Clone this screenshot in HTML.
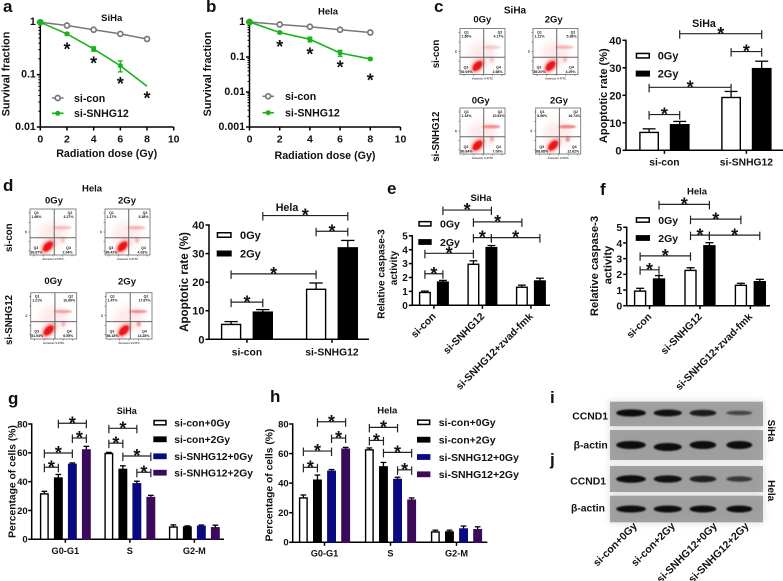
<!DOCTYPE html>
<html lang="en">
<head>
<meta charset="utf-8">
<title>SNHG12 radiation response figure</title>
<style>
html,body{margin:0;padding:0;background:#fff;width:783px;height:581px;overflow:hidden}
svg{display:block;font-family:"Liberation Sans",Arial,sans-serif;filter:blur(0.3px)}
text{fill:#111;font-weight:bold}
</style>
</head>
<body>
<svg id="fig" xmlns="http://www.w3.org/2000/svg" width="783" height="581" viewBox="0 0 783 581">
<defs>
<filter id="b05" x="-30%" y="-30%" width="160%" height="160%"><feGaussianBlur stdDeviation="0.7"/></filter>
<filter id="b1" x="-40%" y="-40%" width="180%" height="180%"><feGaussianBlur stdDeviation="1.3"/></filter>
<filter id="b3" x="-40%" y="-40%" width="180%" height="180%"><feGaussianBlur stdDeviation="4"/></filter>
</defs>
</svg>
<script>
/* ---------- panel a ---------- */
const aDoses=[0,2,4,6,8];
const aCon=[1,0.87,0.72,0.6,0.48];
const aSnhg=[1,0.6,0.31,0.148,0.06];
const aSnhgErr=[0,0.03,0.03,0.035,0];
const aSnhgMarked=[1,1,1,1,0];
const aXTicks=[0,2,4,6,8,10];
const aYTicks=[1,0.1,0.01];
const aStarDoses=[2,4,6,8];
/* ---------- panel b ---------- */
const bDoses=[0,2,4,6,8];
const bCon=[1,0.85,0.73,0.6,0.5];
const bSnhg=[1,0.5,0.32,0.13,0.088];
const bSnhgErr=[0,0.03,0.05,0.025,0.005];
const bSnhgMarked=[1,1,1,1,1];
const bXTicks=[0,2,4,6,8,10];
const bYTicks=[1,0.1,0.01,0.001];
const bStarDoses=[2,4,6,8];
/* ---------- panel c ---------- */
const cGroups=['si-con','si-SNHG12'];
const cSeries=['0Gy','2Gy'];
const cValues=[6.5,9.3,19.2,29.7];
const cErrors=[1.3,1.2,2.2,2.7];
const cTicks=[0,10,20,30,40];
const cBrackets=[[1,3,42.4],[2,3,35.9],[0,2,22.9],[0,1,13]];
/* ---------- panel d ---------- */
const dGroups=['si-con','si-SNHG12'];
const dSeries=['0Gy','2Gy'];
const dValues=[5.2,9.5,17.5,32];
const dErrors=[1,0.9,2.2,2.6];
const dTicks=[0,10,20,30,40];
const dBrackets=[[1,3,43.3],[2,3,37.8],[0,2,22.9],[0,1,13]];
/* ---------- panel e ---------- */
const eGroups=['si-con','si-SNHG12','si-SNHG12+zvad-fmk'];
const eSeries=['0Gy','2Gy'];
const eValues=[0.92,1.67,2.95,4.15,1.3,1.75];
const eErrors=[0.1,0.12,0.25,0.15,0.15,0.2];
const eTicks=[0,1,2,3,4,5];
const eBrackets=[[1,3,6.85],[2,4,6],[2,3,4.87],[3,5,4.87],[0,2,3.74],[0,1,2.27]];
/* ---------- panel f ---------- */
const fGroups=['si-con','si-SNHG12','si-SNHG12+zvad-fmk'];
const fSeries=['0Gy','2Gy'];
const fValues=[0.93,1.7,2.25,3.82,1.3,1.53];
const fErrors=[0.18,0.22,0.17,0.2,0.13,0.15];
const fTicks=[0,1,2,3,4,5];
const fBrackets=[[1,3,6.46],[2,4,5.52],[2,3,4.5],[3,5,4.5],[0,2,3.18],[0,1,2.29]];
/* ---------- panel g ---------- */
const gGroups=['G0-G1','S','G2-M'];
const gSeries=['si-con+0Gy','si-con+2Gy','si-SNHG12+0Gy','si-SNHG12+2Gy'];
const gValues=[31.5,42.5,52,62,59.5,48.5,38.5,29,8.5,8.5,9,8];
const gErrors=[1.8,2.5,1,2.5,0.8,2.5,1.8,1.5,1.5,0.8,0.9,1.8];
const gTicks=[0,20,40,60,80];
const gBrackets=[[1,3,80.5],[2,3,70.3],[0,2,59.9],[0,1,50],[4,6,77],[4,5,66.7],[5,7,57.8],[6,7,46.5]];
/* ---------- panel h ---------- */
const hGroups=['G0-G1','S','G2-M'];
const hSeries=['si-con+0Gy','si-con+2Gy','si-SNHG12+0Gy','si-SNHG12+2Gy'];
const hValues=[30,42,48,63,62.5,51,42.5,28.5,7,7,9,8.5];
const hErrors=[2,3.5,1.2,1.2,1.3,3,1.5,1.5,1.2,1.2,2,2];
const hTicks=[0,20,40,60,80];
const hBrackets=[[1,3,81.5],[2,3,70.5],[0,2,61.7],[0,1,50.7],[4,6,77.7],[4,5,68.9],[5,7,60.8],[6,7,49]];
/* ---------- flow cytometry quadrant readouts ---------- */
const flowRowsC=[['1.86%','4.17%','92.09%','2.68%'],['1.12%','5.38%','89.20%','4.29%'],['1.34%','10.63%','80.84%','7.09%'],['6.96%','16.74%','68.68%','12.62%']];
const flowRowsD=[['1.68%','3.27%','93.87%','2.04%'],['1.17%','5.38%','89.42%','4.03%'],['1.21%','10.69%','81.94%','6.55%'],['1.47%','17.87%','66.18%','14.28%']];
/* ---------- western blot band strengths (lane order) ---------- */
const blotLanes=['si-con+0Gy','si-con+2Gy','si-SNHG12+0Gy','si-SNHG12+2Gy'];
const blotCcnd1Siha=[1,0.95,0.85,0.4];
const blotActinSiha=[1,1,1,1];
const blotCcnd1Hela=[1,0.95,0.8,0.55];
const blotActinHela=[1,1,1,1];

const NS='http://www.w3.org/2000/svg';
const root=document.getElementById('fig');
function mk(tag,attrs,name,parent){
  const el=document.createElementNS(NS,tag);
  for(const k in attrs){el.setAttribute(k,attrs[k]);}
  
  
  (parent||root).appendChild(el);
  return el;
}
function group(name,parent){return mk('g',{},name,parent);}
function line(x1,y1,x2,y2,name,parent,stroke,w){
  return mk('line',{x1:x1,y1:y1,x2:x2,y2:y2,stroke:stroke||'#000','stroke-width':w||1.5},name,parent);
}
function txt(str,x,y,size,name,parent,opt){
  opt=opt||{};
  const a={x:x,y:y+size*0.36,'font-size':size,'text-anchor':opt.anchor||'middle'};
  if(opt.rot){a.transform='rotate('+opt.rot+' '+x+' '+y+')';}
  if(opt.weight){a.style='font-weight:'+opt.weight;}
  if(opt.fill){a.style=(a.style?a.style+';':'')+'fill:'+opt.fill;}
  const el=mk('text',a,name,parent);
  el.textContent=str;
  return el;
}
function star(cx,cy,name,parent){
  const size=18;
  const el=mk('text',{x:cx,y:cy+size*0.58,'font-size':size,'text-anchor':'middle'},name,parent);
  el.textContent='*';
  return el;
}
function letter(ch,x,y){
  const el=mk('text',{x:x,y:y,'font-size':17},'panel-label-'+ch,root);
  el.textContent=ch;
}
function linear(d0,d1,r0,r1){return v=>r0+(v-d0)*(r1-r0)/(d1-d0);}
function logScale(d0,d1,r0,r1){return v=>r0+(Math.log10(v)-Math.log10(d0))*(r1-r0)/(Math.log10(d1)-Math.log10(d0));}

/* ---- survival line chart ---- */
function survival(c){
  const g=group(c.id+'-survival-chart');
  const x=linear(0,10,c.x0,c.x10), y=logScale(c.yMin,1,c.yBottom,c.yTop);
  const axis=group(c.id+'-axes',g);
  line(c.x0,c.yTop,c.x0,c.yBottom,'y-axis',axis);
  line(c.x0-0.75,c.yBottom,c.x10,c.yBottom,'x-axis',axis);
  c.xTicks.forEach(t=>{
    line(x(t),c.yBottom,x(t),c.yBottom+3.5,'x-tick',axis);
    txt(String(t),x(t),c.yBottom+11.5,10.5,'x-tick-label',axis);
  });
  c.yTicks.forEach(t=>{
    line(c.x0-3.5,y(t),c.x0,y(t),'y-tick',axis);
    txt(String(t),c.x0-4.5,y(t)-1,10.6,'y-tick-label',axis,{anchor:'end'});
  });
  for(let d=c.yMin;d<1;d*=10){
    for(let m=2;m<10;m++){line(c.x0-2,y(d*m),c.x0,y(d*m),'y-minor-tick',axis,'#000',1);}
  }
  txt('Radiation dose (Gy)',c.titleX,c.titleY,10.7,'x-axis-title',axis);
  txt('Survival fraction',c.ylabX,c.ylabY,10.8,'y-axis-title',axis,{rot:-90});
  const conPts=c.doses.map((d,i)=>x(d)+','+y(c.con[i])).join(' ');
  mk('polyline',{points:conPts,fill:'none',stroke:'#777','stroke-width':1.5},'si-con-line',g);
  c.doses.forEach((d,i)=>{
    mk('circle',{cx:x(d),cy:y(c.con[i]),r:2.5,fill:'#fff',stroke:'#777','stroke-width':1.7},'si-con-point',g);
  });
  const snPts=c.doses.map((d,i)=>x(d)+','+y(c.snhg[i])).join(' ');
  mk('polyline',{points:snPts,fill:'none',stroke:'#17b417','stroke-width':1.6},'si-snhg12-line',g);
  c.doses.forEach((d,i)=>{
    if(!c.marked[i])return;
    const v=c.snhg[i],e=c.err[i];
    if(e>0){
      line(x(d),y(v+e),x(d),y(v-e),'si-snhg12-error',g,'#17b417',1.3);
      line(x(d)-2.5,y(v+e),x(d)+2.5,y(v+e),'si-snhg12-error-cap',g,'#17b417',1.3);
      line(x(d)-2.5,y(v-e),x(d)+2.5,y(v-e),'si-snhg12-error-cap',g,'#17b417',1.3);
    }
    mk('circle',{cx:x(d),cy:y(v),r:i===0?3.2:2.5,fill:'#17b417'},'si-snhg12-point',g);
  });
  c.starDoses.forEach((d,i)=>star(x(d),c.starY[i],'significance-star',g));
  txt(c.title,c.tx,c.ty,9.5,'chart-title',g);
  const leg=group('legend',g);
  line(c.lx,c.ly1,c.lx+11.5,c.ly1,'legend-line-si-con',leg,'#777',1.5);
  mk('circle',{cx:c.lx+5.7,cy:c.ly1,r:2.5,fill:'#fff',stroke:'#777','stroke-width':1.7},'legend-marker-si-con',leg);
  txt('si-con',c.ltx,c.ly1,10.6,'legend-label-si-con',leg,{anchor:'start'});
  line(c.lx,c.ly2,c.lx+11.5,c.ly2,'legend-line-si-snhg12',leg,'#17b417',1.6);
  mk('circle',{cx:c.lx+5.7,cy:c.ly2,r:2.5,fill:'#17b417'},'legend-marker-si-snhg12',leg);
  txt('si-SNHG12',c.ltx,c.ly2,10.6,'legend-label-si-snhg12',leg,{anchor:'start'});
}

/* ---- bar chart ---- */
const barFills=['#fff','#000','#0a0a80','#3c0a5a'];
function bars(c){
  const g=group(c.id+'-bar-chart');
  const y=linear(0,c.yMax,c.y0,c.yTop);
  const n=c.series.length;
  const xLeft=i=>{const gi=Math.floor(i/n),si=i%n;return c.barX+gi*c.groupStep+si*c.barStep;};
  const xMid=i=>xLeft(i)+c.barW/2;
  const axis=group('axes',g);
  c.values.forEach((v,i)=>{
    const fill=barFills[i%n];
    const e=c.errors[i];
    line(xMid(i),y(v),xMid(i),y(v+e),'error-bar',g,'#000',1.3);
    line(xMid(i)-c.barW*0.33,y(v+e),xMid(i)+c.barW*0.33,y(v+e),'error-cap',g,'#000',1.3);
    mk('rect',{x:xLeft(i)+0.6,y:y(v),width:c.barW-1.2,height:c.y0-y(v),fill:fill,stroke:i%n===0?'#000':fill,'stroke-width':1.4},'bar-'+c.groups[Math.floor(i/n)]+'-'+c.series[i%n],g);
  });
  line(c.axisX,c.yTop-0.7,c.axisX,c.y0+0.7,'y-axis',axis);
  line(c.axisX,c.y0,c.xEnd,c.y0,'x-axis',axis);
  c.ticks.forEach(t=>{
    line(c.axisX-3.5,y(t),c.axisX,y(t),'y-tick',axis);
    txt(String(t),c.axisX-c.tickGap,y(t),c.tickSize,'y-tick-label',axis,{anchor:'end'});
  });
  c.groups.forEach((name,gi)=>{
    const cx=(xLeft(gi*n)+xLeft(gi*n+n-1)+c.barW)/2;
    line(cx,c.y0,cx,c.y0+3.5,'x-tick',axis);
    if(c.rotLabels){
      txt(name,cx-6+(c.labelShift||0),c.y0+9,c.labelSize,'x-tick-label',axis,{anchor:'end',rot:-45});
    }else{
      txt(name,cx+(c.labelDx||0),c.labelY,c.labelSize,'x-tick-label',axis);
    }
  });
  c.brackets.forEach(b=>{
    const bg=group('significance-bracket',g);
    const x1=xMid(b[0]),x2=xMid(b[1]),by=y(b[2]);
    line(x1,by,x2,by,'bracket-line',bg,'#222',1.2);
    line(x1,by-3.5,x1,by+5,'bracket-left-tick',bg,'#222',1.2);
    line(x2,by-3.5,x2,by+5,'bracket-right-tick',bg,'#222',1.2);
    star((x1+x2)/2,by-4.3,'significance-star',bg);
  });
}
function barLegend(x,w,ys,h,textX,size,labels,fills){
  const g=group('legend');
  labels.forEach((l,i)=>{
    mk('rect',{x:x+0.75,y:ys[i]-h/2+0.75,width:w-1.5,height:h-1.5,fill:fills[i],stroke:i===0?'#000':fills[i],'stroke-width':1.5},'legend-swatch',g);
    txt(l,textX,ys[i],size,'legend-label',g,{anchor:'start'});
  });
}

/* ---- flow cytometry thumbnail ---- */
function flow(px,py,w,h,vals,strength,id){
  const g=group(id);
  const sx=w/45,sy=h/46;
  const q2=strength.q2,q4=strength.q4;
  mk('rect',{x:px,y:py,width:w,height:h,fill:'#fff'},'plot-background',g);
  mk('ellipse',{cx:px+22*sx,cy:py+26*sy,rx:14*sx,ry:13*sy,fill:'#f9b8b8',opacity:0.3,filter:'url(#b3)'},'scatter-haze',g);
  mk('ellipse',{cx:px+31.5*sx,cy:py+18.7*sy,rx:9*sx,ry:1.8*sy,fill:'#ef6b6b',opacity:q2,filter:'url(#b05)'},'q2-population',g);
  mk('ellipse',{cx:px+32*sx,cy:py+31*sy,rx:2.2*sx,ry:3*sy,fill:'#ef6b6b',opacity:q4,filter:'url(#b05)'},'q4-population',g);
  mk('ellipse',{cx:px+17.5*sx,cy:py+37.5*sy,rx:9*sx,ry:5.5*sy,fill:'#f22',opacity:0.35,transform:'rotate(-45 '+(px+17.5*sx)+' '+(py+37.5*sy)+')',filter:'url(#b1)'},'q3-halo',g);
  mk('ellipse',{cx:px+17.5*sx,cy:py+37.5*sy,rx:6*sx,ry:3.6*sy,fill:'#e81818',transform:'rotate(-45 '+(px+17.5*sx)+' '+(py+37.5*sy)+')',filter:'url(#b05)'},'q3-population',g);
  mk('rect',{x:px,y:py,width:w,height:h,fill:'none',stroke:'#777','stroke-width':0.9},'plot-frame',g);
  line(px+23.7*sx,py,px+23.7*sx,py+h,'quadrant-vertical',g,'#666',1);
  line(px,py+28.7*sy,px+w,py+28.7*sy,'quadrant-horizontal',g,'#666',1);
  for(let i=0;i<5;i++){
    line(px-1.5,py+4+i*9.5,px,py+4+i*9.5,'y-tick',g,'#555',0.6);
    line(px+4+i*9.5,py+h,px+4+i*9.5,py+h+1.5,'x-tick',g,'#555',0.6);
  }
  const fs=3.5;
  txt('Q1',px+6.5,py+3.6,fs,'q1-name',g);
  txt(vals[0],px+6.5,py+7.7,fs,'q1-value',g);
  txt('Q2',px+40,py+3.6,fs,'q2-name',g);
  txt(vals[1],px+38.5,py+7.7,fs,'q2-value',g);
  txt('Q3',px+6,py+38.5,fs,'q3-name',g);
  txt(vals[2],px+6.5,py+43,fs,'q3-value',g);
  txt('Q4',px+38.5,py+38.5,fs,'q4-name',g);
  txt(vals[3],px+37.5,py+43,fs,'q4-value',g);
  txt('Annexin V-FITC',px+w/2,py+h+4,2.9,'x-axis-label',g,{fill:'#444'});
  txt('PI',px-4,py+h*0.5,2.9,'y-axis-label',g,{rot:-90,fill:'#444'});
}

/* ---- western blot ---- */
const laneFrac=[[0.04,0.235],[0.285,0.47],[0.52,0.695],[0.76,0.93]];
function blot(px,py,w,h,vals,dy,id,thick){
  const g=group(id);
  mk('rect',{x:px,y:py,width:w,height:h,fill:'#a6a6a6'},'blot-background',g);
  mk('rect',{x:px,y:py,width:w,height:h,fill:'#909090',opacity:0.35,filter:'url(#b3)'},'blot-shade',g);
  vals.forEach((v,i)=>{
    const x1=px+w*laneFrac[i][0],x2=px+w*laneFrac[i][1];
    mk('ellipse',{cx:(x1+x2)/2,cy:py+h/2+dy[i],rx:(x2-x1)/2,ry:thick*(0.35+0.65*v),fill:'#0c0c0c',opacity:0.35+0.65*v,filter:'url(#b05)'},'band-lane-'+(i+1),g);
  });
}

/* ============ render ============ */
letter('a',3,12);letter('b',206,12);letter('c',434,12);letter('d',3,191);
letter('e',387,194);letter('f',600,195);letter('g',8,404);letter('h',270,402);letter('i',550,403);letter('j',550,465);

survival({id:'a',title:'SiHa',tx:111.7,ty:17.7,doses:aDoses,con:aCon,snhg:aSnhg,err:aSnhgErr,marked:aSnhgMarked,
  xTicks:aXTicks,yTicks:aYTicks,yMin:0.01,x0:40.3,x10:173.7,yTop:22.3,yBottom:127,
  starDoses:aStarDoses,starY:[45,59.3,79.7,94.3],titleX:106.7,titleY:153,ylabX:5.5,ylabY:74,
  lx:52,ly1:98,ly2:113.3,ltx:74});
survival({id:'b',title:'Hela',tx:328,ty:11,doses:bDoses,con:bCon,snhg:bSnhg,err:bSnhgErr,marked:bSnhgMarked,
  xTicks:bXTicks,yTicks:bYTicks,yMin:0.001,x0:249.5,x10:400.5,yTop:22,yBottom:127,
  starDoses:bStarDoses,starY:[42.7,50,63.3,76],titleX:325,titleY:155,ylabX:207,ylabY:74,
  lx:262.5,ly1:96.3,ly2:112.7,ltx:285});

bars({id:'c',groups:cGroups,series:cSeries,values:cValues,errors:cErrors,ticks:cTicks,brackets:cBrackets,
  yMax:40,y0:150.3,yTop:40.3,axisX:626,xEnd:783,barX:639.3,barW:19.6,barStep:30.6,groupStep:82,
  tickGap:4.5,tickSize:11,labelSize:10.3,labelY:161.7});
txt('Apoptotic rate (%)',603,95.7,11,'y-axis-title',root,{rot:-90});
txt('SiHa',704,23.3,10.7,'chart-title',root);
barLegend(635.7,14.3,[55.7,73.6],6,657.7,11,cSeries,['#fff','#000']);

bars({id:'d',groups:dGroups,series:dSeries,values:dValues,errors:dErrors,ticks:dTicks,brackets:dBrackets,
  yMax:40,y0:339.3,yTop:225,axisX:209,xEnd:369,barX:221,barW:20.2,barStep:31.7,groupStep:85,
  tickGap:4.5,tickSize:11,labelSize:10.3,labelY:351.7});
txt('Apoptotic rate (%)',184,282,11.6,'y-axis-title',root,{rot:-90});
txt('Hela',287,207.3,10.7,'chart-title',root);
barLegend(216.7,15,[235,253.5],6,240,11,dSeries,['#fff','#000']);

bars({id:'e',groups:eGroups,series:eSeries,values:eValues,errors:eErrors,ticks:eTicks,brackets:eBrackets,
  yMax:5,y0:305.3,yTop:235.8,axisX:412.3,xEnd:550,barX:419,barW:11.8,barStep:18,groupStep:48.5,
  tickGap:4.5,tickSize:10,labelSize:10.3,rotLabels:true,labelShift:6});
txt('Relative caspase-3',380.7,274,10,'y-axis-title',root,{rot:-90});
txt('activity',393.3,268,10,'y-axis-title-line-2',root,{rot:-90});
txt('SiHa',481,197.5,9.5,'chart-title',root);
barLegend(418.3,13.4,[223.8,242],5.8,440,10.5,eSeries,['#fff','#000']);

bars({id:'f',groups:fGroups,series:fSeries,values:fValues,errors:fErrors,ticks:fTicks,brackets:fBrackets,
  yMax:5,y0:305.7,yTop:227.3,axisX:626.7,xEnd:770,barX:634,barW:12.2,barStep:18.9,groupStep:50.4,
  tickGap:4.5,tickSize:10.5,labelSize:10.3,rotLabels:true,labelShift:6});
txt('Relative caspase-3',594,266,11.2,'y-axis-title',root,{rot:-90});
txt('activity',607.7,265,11.2,'y-axis-title-line-2',root,{rot:-90});
txt('Hela',697,191,9.5,'chart-title',root);
barLegend(635.7,14.3,[220,238],5.8,658.3,10.5,fSeries,['#fff','#000']);

bars({id:'g',groups:gGroups,series:gSeries,values:gValues,errors:gErrors,ticks:gTicks,brackets:gBrackets,
  yMax:80,y0:539.3,yTop:424,axisX:31.7,xEnd:224,barX:40,barW:8.7,barStep:14,groupStep:64.5,
  tickGap:4,tickSize:9.5,labelSize:9.2,labelY:550.7});
txt('Percentage of cells (%)',11.7,481.5,10.3,'y-axis-title',root,{rot:-90});
txt('SiHa',126.7,411,9,'chart-title',root);
barLegend(153.3,13.4,[422.7,439.3,456.3,472.7],5.8,174.3,10.3,gSeries,barFills);

bars({id:'h',groups:hGroups,series:hSeries,values:hValues,errors:hErrors,ticks:hTicks,brackets:hBrackets,
  yMax:80,y0:542.3,yTop:424,axisX:292.7,xEnd:487.3,barX:299,barW:8.7,barStep:14.1,groupStep:66,
  tickGap:4,tickSize:9.5,labelSize:9.2,labelY:553.3});
txt('Percentage of cells (%)',269,485,10.3,'y-axis-title',root,{rot:-90});
txt('Hela',387.3,410,9.5,'chart-title',root);
barLegend(417,13.4,[422.3,439.7,457,474.3],5.8,438.7,10.5,hSeries,barFills);

/* flow cytometry C */
txt('SiHa',515,10,10,'flow-title',root);
txt('0Gy',482.3,19,9.5,'flow-column-0gy',root);
txt('2Gy',553.7,19,9.5,'flow-column-2gy',root);
txt('0Gy',480.7,100,9.5,'flow-column-0gy',root);
txt('2Gy',559,100,9.5,'flow-column-2gy',root);
txt('si-con',435.7,54,9.7,'flow-row-si-con',root,{rot:-90});
txt('si-SNHG12',435.7,136.7,9.7,'flow-row-si-snhg12',root,{rot:-90});
flow(460,28.5,45,46,flowRowsC[0],{q2:0.3,q4:0.3},'flow-plot-c1');
flow(533,28.5,45,46,flowRowsC[1],{q2:0.45,q4:0.35},'flow-plot-c2');
flow(460,108,45,46,flowRowsC[2],{q2:0.75,q4:0.45},'flow-plot-c3');
flow(535.7,108,45,46,flowRowsC[3],{q2:0.8,q4:0.7},'flow-plot-c4');

/* flow cytometry D */
txt('Hela',92,188.3,9.5,'flow-title',root);
txt('0Gy',54,200,9.5,'flow-column-0gy',root);
txt('2Gy',127,200,9.5,'flow-column-2gy',root);
txt('0Gy',53.3,280.7,9.5,'flow-column-0gy',root);
txt('2Gy',127,281,9.5,'flow-column-2gy',root);
txt('si-con',8.3,237.7,9.7,'flow-row-si-con',root,{rot:-90});
txt('si-SNHG12',8.3,320,9.7,'flow-row-si-snhg12',root,{rot:-90});
flow(30,209,46,46,flowRowsD[0],{q2:0.4,q4:0.3},'flow-plot-d1');
flow(105,209,45,46,flowRowsD[1],{q2:0.45,q4:0.4},'flow-plot-d2');
flow(30.7,292.7,46,46.3,flowRowsD[2],{q2:0.6,q4:0.4},'flow-plot-d3');
flow(106,292.7,46,46.3,flowRowsD[3],{q2:0.7,q4:0.6},'flow-plot-d4');

/* blots */
blot(610,401.7,153,24.5,blotCcnd1Siha,[-1,-1,-1,-1],'blot-ccnd1-siha',3.6);
blot(610,430,153,30,blotActinSiha,[0,2,0,0],'blot-actin-siha',4);
blot(610,466,153,26,blotCcnd1Hela,[0,0,0,0],'blot-ccnd1-hela',3.8);
blot(610,495.7,153,26.6,blotActinHela,[0,0,0,0],'blot-actin-hela',3.5);
txt('CCND1',608,415.7,10.4,'blot-label-ccnd1-siha',root,{anchor:'end'});
txt('β-actin',607.7,445,10.4,'blot-label-actin-siha',root,{anchor:'end'});
txt('CCND1',606,480.7,10.4,'blot-label-ccnd1-hela',root,{anchor:'end'});
txt('β-actin',605,508,10.4,'blot-label-actin-hela',root,{anchor:'end'});
txt('SiHa',771.7,430.7,10,'blot-cell-line-siha',root,{rot:90});
txt('Hela',771.7,490.7,10,'blot-cell-line-hela',root,{rot:90});
const blotLabelEnds=[635,673,715,746.7];
blotLanes.forEach((l,i)=>{
  txt(l,blotLabelEnds[i],524,10.5,'blot-lane-label',root,{anchor:'end',rot:-45});
});
</script>
</body>
</html>
